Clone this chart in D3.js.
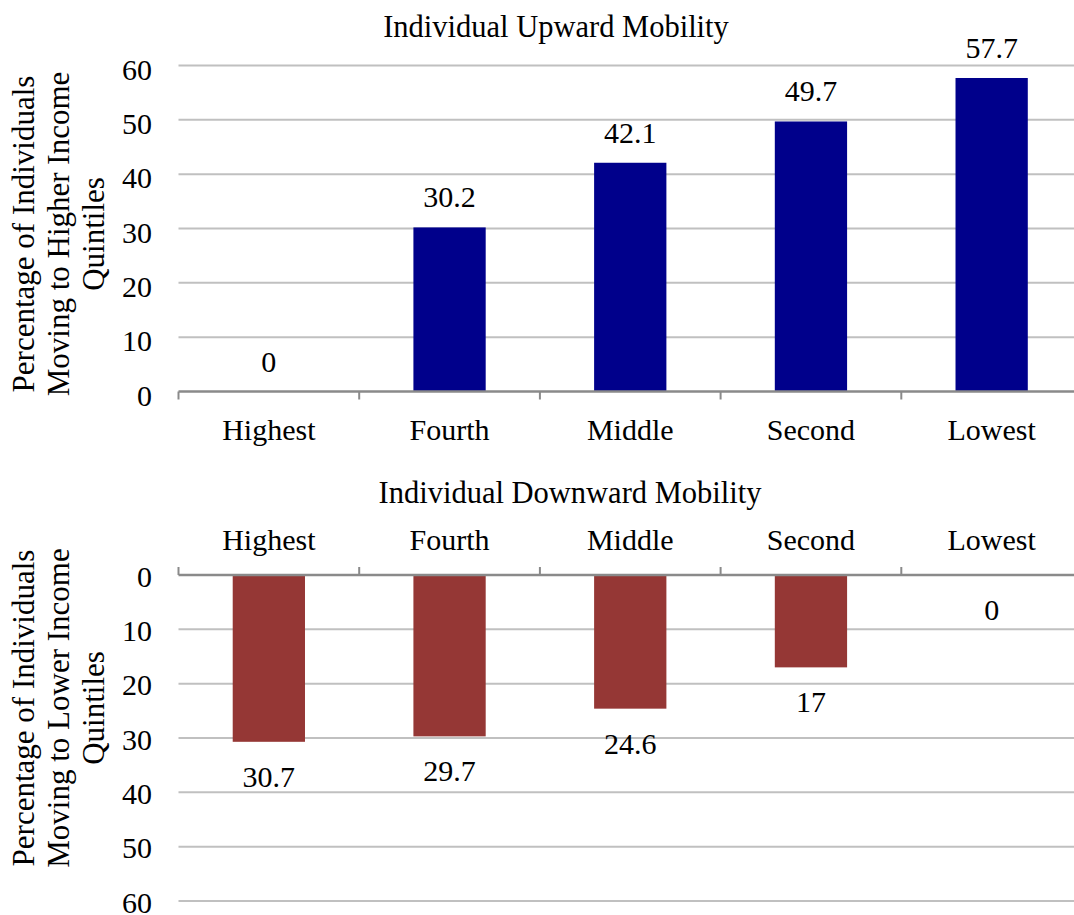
<!DOCTYPE html>
<html>
<head>
<meta charset="utf-8">
<script src="https://cdn.jsdelivr.net/npm/d3@7"></script>
<style>
  html, body { margin: 0; padding: 0; background: #fff; }
  svg { display: block; }
</style>
</head>
<body>
<svg id="chart" width="1074" height="915"></svg>
<script>
// Income quintiles (shared by both panels)
const quintiles = ["Highest", "Fourth", "Middle", "Second", "Lowest"];

// Share of individuals moving up / down, by starting quintile (%)
const upwardValues = [0, 30.2, 42.1, 49.7, 57.7];
const downwardValues = [30.7, 29.7, 24.6, 17, 0];

// Value axis ticks
const valueTicks = [0, 10, 20, 30, 40, 50, 60];

const serif = "'Liberation Serif', Tinos, 'Times New Roman', Times, 'Nimbus Roman', 'DejaVu Serif', serif";

const svg = d3.select("#chart")
  .attr("font-family", serif)
  .style("font-family", serif);

const gridColor = "#c0c0c0";
const axisColor = "#8a8a8a";
const labelSize = 30;

const x = d3.scaleBand()
  .domain(quintiles)
  .range([178.5, 1082])
  .paddingInner(0.6)
  .paddingOuter(0.3);

// Category boundaries for the axis tick marks
const step = x.step();
const x0 = x.range()[0];
const boundaries = d3.range(quintiles.length + 1).map(i => x0 + i * step);

function panel(opts) {
  const g = svg.append("g");
  const y = d3.scaleLinear().domain([0, 60]).range(opts.yRange);

  // gridlines (skip zero; the axis line sits there)
  g.append("g").selectAll("line")
    .data(valueTicks.filter(v => v !== 0))
    .join("line")
    .attr("x1", x0).attr("x2", 1074)
    .attr("y1", d => y(d)).attr("y2", d => y(d))
    .attr("stroke", gridColor).attr("stroke-width", 2);

  // value tick labels
  g.append("g").selectAll("text")
    .data(valueTicks)
    .join("text")
    .attr("x", 152)
    .attr("y", d => y(d) + opts.tickDy)
    .attr("text-anchor", "end")
    .attr("font-size", labelSize)
    .text(d => d);

  // bars
  g.append("g").selectAll("rect")
    .data(opts.values)
    .join("rect")
    .attr("x", (d, i) => x(quintiles[i]))
    .attr("width", x.bandwidth())
    .attr("y", d => Math.min(y(d), y(0)))
    .attr("height", d => Math.abs(y(d) - y(0)))
    .attr("fill", opts.color);

  // category axis line with boundary ticks
  const axisY = y(0);
  g.append("line")
    .attr("x1", x0).attr("x2", 1074)
    .attr("y1", axisY).attr("y2", axisY)
    .attr("stroke", axisColor).attr("stroke-width", 2.5);
  g.append("g").selectAll("line")
    .data(boundaries)
    .join("line")
    .attr("x1", d => d).attr("x2", d => d)
    .attr("y1", axisY).attr("y2", axisY + opts.tickDir * 8)
    .attr("stroke", axisColor).attr("stroke-width", 2);

  // category labels
  g.append("g").selectAll("text")
    .data(quintiles)
    .join("text")
    .attr("x", d => x(d) + x.bandwidth() / 2)
    .attr("y", opts.catY)
    .attr("text-anchor", "middle")
    .attr("font-size", labelSize)
    .text(d => d);

  // value labels at the bar ends
  g.append("g").selectAll("text")
    .data(opts.values)
    .join("text")
    .attr("x", (d, i) => x(quintiles[i]) + x.bandwidth() / 2)
    .attr("y", d => y(d) + opts.valueDy)
    .attr("text-anchor", "middle")
    .attr("font-size", labelSize)
    .text(d => d);

  // panel title
  g.append("text")
    .attr("x", opts.titleX)
    .attr("y", opts.titleY)
    .attr("text-anchor", "middle")
    .attr("font-size", 30.5)
    .text(opts.title);

  // multi-line rotated axis title
  const t = g.append("text")
    .attr("transform", `translate(0,${opts.yTitleCenter}) rotate(-90)`)
    .attr("text-anchor", "middle")
    .attr("font-size", 31);
  opts.yTitle.forEach((line, i) => {
    t.append("tspan")
      .attr("x", 0)
      .attr("y", 34 + i * 35)
      .text(line);
  });
}

panel({
  values: upwardValues,
  yRange: [391.5, 65.5],
  color: "#00008b",
  tickDy: 14,
  tickDir: 1,
  catY: 440,
  valueDy: -20,
  title: "Individual Upward Mobility",
  titleX: 556,
  titleY: 37,
  yTitle: ["Percentage of Individuals", "Moving to Higher Income", "Quintiles"],
  yTitleCenter: 234
});

panel({
  values: downwardValues,
  yRange: [575, 901],
  color: "#953735",
  tickDy: 11.5,
  tickDir: -1,
  catY: 550,
  valueDy: 45,
  title: "Individual Downward Mobility",
  titleX: 570,
  titleY: 503,
  yTitle: ["Percentage of Individuals", "Moving to Lower Income", "Quintiles"],
  yTitleCenter: 708
});
</script>
</body>
</html>
